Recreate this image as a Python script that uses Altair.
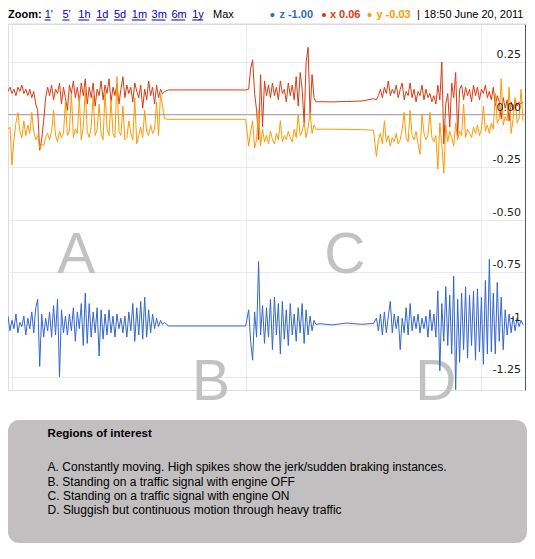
import altair as alt
import pandas as pd

# ---------------- data ----------------
# sample times (arbitrary time units along the time axis)
t_A = list(range(8, 168, 2))      # region A (moving)
t_B = [170, 248]                  # region B (engine off, flat)
t_C = list(range(251, 321, 2))    # region C (moving burst)
t_Cq = [323, 335, 350, 365, 377]  # region C (engine on, idle)
t_D = list(range(380, 530, 2))    # region D (heavy traffic)

x_A = [0.11, 0.13, 0.10, 0.12, 0.09, 0.13, 0.11, 0.14, 0.10, 0.12,
       0.09, 0.12, 0.08, 0.11, 0.05, 0.02, -0.17, -0.12, -0.03, 0.08,
       0.13, 0.09, 0.14, 0.07, 0.12, 0.10, 0.15, 0.05, 0.13, 0.08,
       0.02, 0.14, 0.10, 0.16, 0.08, 0.13, 0.06, 0.15, 0.09, 0.17,
       0.05, 0.13, 0.08, 0.15, 0.04, 0.12, 0.09, 0.16, 0.07, 0.14,
       0.10, 0.17, 0.06, 0.13, 0.09, 0.15, 0.05, 0.12, 0.18, 0.08,
       0.14, 0.10, 0.13, 0.06, 0.15, 0.11, 0.08, 0.14, 0.03, 0.12,
       0.07, 0.16, 0.09, 0.13, 0.05, 0.14, 0.08, 0.12, 0.10, 0.11]
x_B = [0.117, 0.117]
x_C = [0.12, 0.22, 0.26, 0.10, 0.02, -0.12, 0.19, -0.06, 0.16, 0.09,
       0.14, 0.08, 0.15, 0.09, 0.13, 0.07, 0.16, 0.10, 0.12, 0.06,
       0.15, 0.09, 0.14, 0.07, 0.18, 0.04, 0.20, 0.12, -0.04, 0.25,
       0.32, 0.00, 0.19, 0.08, 0.06]
x_Cq = [0.061, 0.060, 0.062, 0.064, 0.075]
x_D = [0.07, 0.09, 0.12, 0.08, 0.13, 0.10, 0.16, 0.09, 0.12, 0.10,
       0.14, 0.08, 0.12, 0.15, 0.07, 0.11, 0.09, 0.15, 0.08, 0.12,
       0.06, 0.11, 0.09, 0.14, 0.07, 0.12, 0.08, 0.10, 0.06, 0.09,
       0.05, 0.14, 0.07, 0.25, -0.14, 0.05, 0.10, -0.06, 0.15, 0.08,
       0.20, -0.10, 0.12, 0.14, 0.07, 0.13, 0.09, 0.12, 0.06, 0.14,
       0.09, 0.13, 0.07, 0.12, 0.10, 0.14, 0.08, 0.11, 0.07, 0.13,
       0.04, 0.09, 0.06, -0.02, 0.08, 0.03, 0.07, -0.03, 0.06, 0.02,
       0.07, 0.04, 0.06, 0.05, 0.06]

y_A = [-0.07, -0.06, -0.24, -0.12, -0.04, 0.01, -0.08, -0.11, -0.03, -0.10,
       -0.05, -0.09, 0.01, -0.08, -0.12, -0.10, -0.16, -0.14, -0.15, -0.11,
       -0.09, -0.12, -0.08, 0.02, -0.10, -0.13, -0.08, -0.11, -0.09, 0.06,
       -0.10, -0.08, 0.10, -0.11, -0.07, -0.09, 0.08, -0.12, -0.06, 0.12,
       -0.08, -0.11, -0.06, 0.09, -0.10, -0.07, 0.05, -0.09, -0.12, 0.11,
       -0.07, -0.10, 0.07, -0.09, -0.11, 0.18, -0.08, -0.10, 0.04, -0.12,
       -0.11, -0.03, -0.09, -0.12, 0.08, -0.14, -0.10, -0.06, -0.11, 0.02,
       -0.08, -0.10, -0.05, -0.09, -0.07, 0.06, -0.10, 0.10, 0.04, -0.02]
y_B = [-0.023, -0.023]
y_C = [-0.15, -0.08, -0.03, -0.16, -0.12, 0.02, -0.15, -0.07, -0.13, -0.10,
       -0.14, -0.08, -0.12, -0.14, -0.09, -0.12, -0.03, -0.13, -0.10, -0.12,
       -0.08, -0.11, -0.13, -0.07, -0.11, 0.00, -0.10, -0.08, -0.04, -0.11,
       -0.06, 0.01, -0.09, -0.05, -0.07]
y_Cq = [-0.070, -0.070, -0.071, -0.072, -0.075]
y_D = [-0.20, -0.12, -0.09, -0.14, -0.03, -0.13, -0.10, -0.15, -0.11, -0.13,
       -0.09, -0.14, -0.12, -0.07, 0.01, -0.11, -0.13, 0.02, -0.10, -0.12,
       -0.08, -0.14, -0.19, 0.00, -0.09, -0.12, -0.10, 0.01, -0.11, -0.13,
       -0.10, -0.26, -0.04, -0.14, -0.28, -0.05, -0.13, -0.08, -0.11, -0.15,
       -0.04, -0.12, -0.08, -0.10, 0.05, -0.11, -0.07, -0.09, -0.11, -0.06,
       -0.09, -0.05, -0.10, -0.07, 0.04, -0.08, -0.05, -0.09, -0.04, -0.07,
       0.10, -0.04, -0.02, 0.17, -0.05, -0.01, -0.03, 0.13, -0.09, -0.02,
       0.08, -0.04, -0.02, 0.12, -0.03]

z_A = [-0.96, -1.03, -0.98, -1.02, -0.95, -1.04, -0.99, -1.01, -0.96, -1.05,
       -0.97, -1.02, -0.94, -1.04, -0.92, -0.88, -1.20, -0.95, -1.06, -0.97,
       -1.03, -0.94, -1.06, -0.91, -1.05, -0.88, -1.25, -0.93, -1.04, -0.96,
       -1.05, -0.95, -1.03, -0.92, -1.08, -0.94, -1.02, -0.90, -1.10, -0.85,
       -1.09, -0.90, -1.06, -0.94, -1.04, -0.92, -1.15, -0.93, -1.07, -0.95,
       -1.05, -0.93, -1.04, -0.96, -1.06, -0.95, -1.02, -0.97, -1.04, -0.96,
       -1.06, -0.94, -1.03, -0.90, -1.08, -0.92, -1.05, -0.89, -1.07, -0.87,
       -1.06, -0.93, -1.04, -0.95, -1.02, -0.97, -1.01, -0.98, -1.00, -0.99]
z_B = [-1.007, -1.007]
z_C = [-0.93, -1.08, -1.17, -0.94, -1.06, -0.70, -1.05, -0.91, -1.09, -0.92,
       -1.06, -0.88, -1.12, -0.87, -1.05, -0.90, -1.14, -0.89, -1.07, -0.93,
       -1.10, -0.90, -1.05, -0.95, -1.08, -0.92, -1.04, -0.90, -1.09, -0.93,
       -1.05, -0.96, -1.03, -0.98, -1.00]
z_Cq = [-0.996, -1.002, -0.993, -0.999, -0.995]
z_D = [-0.97, -1.03, -0.95, -1.05, -0.94, -1.04, -0.96, -0.89, -1.04, -0.95,
       -1.02, -0.96, -1.12, -0.97, -1.04, -0.92, -1.05, -0.90, -1.03, -0.96,
       -1.02, -0.95, -1.04, -0.97, -1.02, -0.96, -1.06, -0.93, -1.03, -0.95,
       -1.06, -0.84, -1.22, -0.90, -1.08, -0.82, -1.10, -0.86, -1.14, -0.77,
       -1.31, -0.88, -1.18, -0.85, -1.12, -0.82, -1.16, -0.86, -1.10, -0.84,
       -1.17, -0.83, -1.13, -0.87, -1.19, -0.79, -1.14, -0.69, -1.13, -0.85,
       -1.14, -0.80, -1.08, -0.87, -1.12, -0.93, -1.05, -0.95, -1.04, -0.96,
       -1.03, -0.97, -1.01, -0.98, -1.00]

tick_vals = [0.25, 0.0, -0.25, -0.5, -0.75, -1.0, -1.25]
tick_labels = ["0.25", "0.00", "-0.25", "-0.50", "-0.75", "-1", "-1.25"]
vgrid_times = [12, 248, 486]

letters = ["A", "B", "C", "D"]
letter_t = [77, 213, 348, 440]
letter_v = [-0.755, -1.36, -0.755, -1.36]

zoom_labels = ["1'", "5'", "1h", "1d", "5d", "1m", "3m", "6m", "1y"]
zoom_t = [45, 63, 79, 97, 115, 133, 153, 173, 194]
zoom_t_end = [51, 70, 90, 107, 125, 147, 167, 187, 205]

legend_series = ["z", "x", "y"]
legend_values = ["-1.00", "0.06", "-0.03"]
legend_colors = ["#3366cc", "#dc3912", "#ff9900"]
legend_dot_t = [275, 327, 373]
legend_text_t = [282, 333, 380]
timestamp = "18:50 June 20, 2011"

box_title = "Regions of interest"
box_lines = [
    "A. Constantly moving. High spikes show the jerk/sudden braking instances.",
    "B. Standing on a traffic signal with engine OFF",
    "C. Standing on a traffic signal with engine ON",
    "D. Sluggish but continuous motion through heavy traffic",
]
box_line_v = [-1.698, -1.769, -1.836, -1.902]

# ---------------- build tables ----------------
segs_t = [t_A, t_B, t_C, t_Cq, t_D]


def series_df(segs_v):
    rows = []
    for ts, vs in zip(segs_t, segs_v):
        for a, b in zip(ts, vs):
            rows.append({"t": a, "v": b})
    return pd.DataFrame(rows)


df_x = series_df([x_A, x_B, x_C, x_Cq, x_D])
df_y = series_df([y_A, y_B, y_C, y_Cq, y_D])
df_z = series_df([z_A, z_B, z_C, z_Cq, z_D])

W, H = 517, 366
GRID = "#e8e8f0"
FONT = "Liberation Sans"
V_TOP = 0.431

xs = alt.Scale(domain=[8, 530], nice=False, zero=False)
ys = alt.Scale(domain=[-1.3119, V_TOP], nice=False, zero=False)
X_AX = alt.Axis(values=vgrid_times, labels=False, ticks=False, domain=False,
                grid=True, gridColor=GRID, gridWidth=1, title=None)
Y_AX = alt.Axis(orient="right", values=tick_vals, labels=False, ticks=False,
                tickSize=0, domain=True, domainColor="#555555", domainWidth=1,
                grid=True, gridColor=GRID, gridWidth=1, title=None)


def X(f="t"):
    return alt.X(f"{f}:Q", scale=xs, axis=X_AX)


def Y(f="v"):
    return alt.Y(f"{f}:Q", scale=ys, axis=Y_AX)


letters_layer = alt.Chart(pd.DataFrame({"t": letter_t, "v": letter_v, "label": letters})).mark_text(
    font=FONT, fontSize=57, color="#c2c2c2", align="center", baseline="alphabetic"
).encode(x=X(), y=Y(), text="label:N")

zero_layer = alt.Chart(pd.DataFrame({"v": [0.0]})).mark_rule(color="#b9a3a3", strokeWidth=1).encode(y=Y())


def line(df, color):
    return alt.Chart(df).mark_line(color=color, strokeWidth=1, interpolate="linear").encode(x=X(), y=Y())


z_layer = line(df_z, "#3366cc")
x_layer = line(df_x, "#dc3912")
y_layer = line(df_y, "#ff9900")

ticklab_layer = alt.Chart(pd.DataFrame({"v": tick_vals, "label": tick_labels})).mark_text(
    font="DejaVu Sans", fontSize=11, color="#222222", align="right", baseline="alphabetic", dy=-4
).encode(x=alt.value(W - 4), y=Y(), text="label:N")

# toolbar
TB_V = 0.4738
sep_layer = alt.Chart(pd.DataFrame({"t": [8], "t2": [532], "v": [V_TOP]})).mark_rule(
    color="#d6d6d6", strokeWidth=1
).encode(x=X(), x2="t2:Q", y=Y())

tb_bold = alt.Chart(pd.DataFrame({"t": [8], "v": [TB_V], "label": ["Zoom:"]})).mark_text(
    font=FONT, fontSize=11, fontWeight="bold", color="#000000", align="left", baseline="middle"
).encode(x=X(), y=Y(), text="label:N")

tb_links = alt.Chart(pd.DataFrame({"t": zoom_t, "v": [TB_V] * len(zoom_t), "label": zoom_labels})).mark_text(
    font=FONT, fontSize=11, color="#0000cc", align="left", baseline="middle"
).encode(x=X(), y=Y(), text="label:N")

tb_under = alt.Chart(pd.DataFrame({"t": zoom_t, "t2": zoom_t_end, "v": [0.450] * len(zoom_t)})).mark_rule(
    color="#0000cc", strokeWidth=1
).encode(x=X(), x2="t2:Q", y=Y())

tb_plain = alt.Chart(pd.DataFrame({"t": [215, 421, 428], "v": [TB_V] * 3,
                                   "label": ["Max", "|", timestamp]})).mark_text(
    font=FONT, fontSize=11, color="#000000", align="left", baseline="middle"
).encode(x=X(), y=Y(), text="label:N")

leg_df = pd.DataFrame({
    "t": legend_text_t, "td": legend_dot_t, "v": [TB_V] * 3,
    "label": [f"{s} {v}" for s, v in zip(legend_series, legend_values)],
    "c": legend_colors,
})
tb_dots = alt.Chart(leg_df).mark_circle(size=18, opacity=1).encode(
    x=X("td"), y=Y(), color=alt.Color("c:N", scale=None))
tb_leg = alt.Chart(leg_df).mark_text(
    font=FONT, fontSize=11, fontWeight="bold", align="left", baseline="middle"
).encode(x=X(), y=Y(), text="label:N", color=alt.Color("c:N", scale=None))

# regions-of-interest box
box_layer = alt.Chart(pd.DataFrame({"t": [8], "t2": [532], "v": [-1.455], "v2": [-2.04]})).mark_rect(
    color="#c1bfc0", cornerRadius=11
).encode(x=X(), x2="t2:Q", y=Y(), y2="v2:Q")

box_title_layer = alt.Chart(pd.DataFrame({"t": [48], "v": [-1.536], "label": [box_title]})).mark_text(
    font=FONT, fontSize=11.5, fontWeight="bold", color="#000000", align="left", baseline="alphabetic"
).encode(x=X(), y=Y(), text="label:N")

box_lines_layer = alt.Chart(pd.DataFrame({"t": [48] * 4, "v": box_line_v, "label": box_lines})).mark_text(
    font=FONT, fontSize=12, color="#000000", align="left", baseline="alphabetic"
).encode(x=X(), y=Y(), text="label:N")

chart = alt.layer(
    letters_layer, zero_layer, z_layer, x_layer, y_layer, ticklab_layer,
    sep_layer, tb_bold, tb_links, tb_under, tb_plain, tb_dots, tb_leg,
    box_layer, box_title_layer, box_lines_layer,
).properties(
    width=W, height=H,
    autosize=alt.AutoSizeParams(type="none"),
    padding={"left": 0, "top": 16, "right": 2, "bottom": 155},
).configure_view(stroke=None).configure(background="white")

chart.save("out.html", embed_options={"renderer": "svg", "actions": False})
